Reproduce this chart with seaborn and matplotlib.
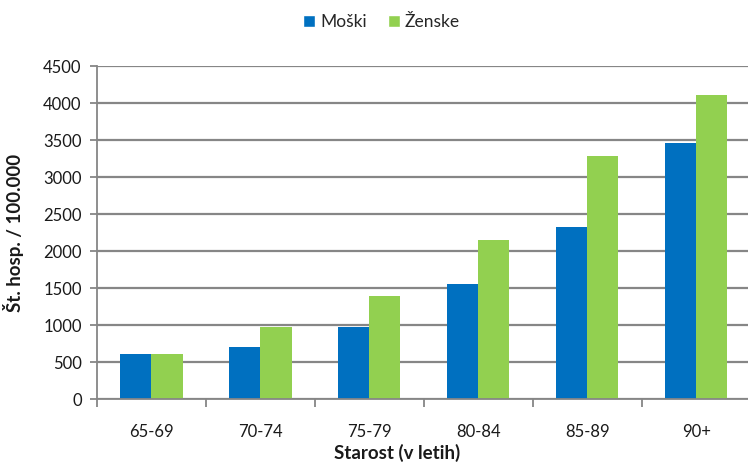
import pandas as pd
import matplotlib
matplotlib.use("Agg")
import matplotlib.pyplot as plt
import seaborn as sns
from matplotlib.patches import Patch

# data
starost = ["65-69", "70-74", "75-79", "80-84", "85-89", "90+"]
moski = [605, 700, 975, 1550, 2330, 3455]
zenske = [605, 975, 1395, 2145, 3290, 4115]

df = pd.DataFrame({
    "Starost": starost * 2,
    "Vrednost": moski + zenske,
    "Spol": ["Moški"] * len(starost) + ["Ženske"] * len(starost),
})

sns.set_theme(style="white")
plt.rcParams["font.family"] = ["Lato", "DejaVu Sans"]

barve = {"Moški": "#0070C0", "Ženske": "#92D050"}
siva = "#868686"

fig = plt.figure(figsize=(7.48, 4.63), dpi=100)
ax = fig.add_axes([0.1297, 0.1382, 0.874, 0.7192])

sns.barplot(data=df, x="Starost", y="Vrednost", hue="Spol", order=starost,
            palette=barve, width=0.57, gap=0, saturation=1, ax=ax,
            legend=False, linewidth=0)

ax.set_ylim(0, 4500)
ax.set_yticks(range(0, 4501, 500))
ax.set_xlim(-0.5, 5.5)
ax.yaxis.grid(True, color=siva, linewidth=1.6)
ax.set_axisbelow(True)

for s in ["top", "right"]:
    ax.spines[s].set_visible(False)
for s in ["left", "bottom"]:
    ax.spines[s].set_color(siva)
    ax.spines[s].set_linewidth(1.3)

ax.tick_params(axis="y", which="major", left=True, length=5, width=1.3,
               color=siva, labelsize=12, labelcolor="#1a1a1a", pad=6)
ax.tick_params(axis="x", which="major", bottom=False, labelsize=12,
               labelcolor="#1a1a1a", pad=12)
ax.set_xticks([i + 0.5 for i in range(-1, len(starost))], minor=True)
ax.tick_params(axis="x", which="minor", bottom=True, length=6, width=1.3,
               color=siva)

ax.set_xlabel("Starost (v letih)", fontsize=13.5, fontweight="bold",
              color="#1a1a1a")
ax.set_ylabel("Št. hosp. / 100.000", fontsize=13.5, fontweight="bold",
              color="#1a1a1a")
ax.xaxis.set_label_coords(0.459, -0.135)
ax.yaxis.set_label_coords(-0.112, 0.5)

handles = [Patch(facecolor=barve[k], label=k) for k in ["Moški", "Ženske"]]
fig.legend(handles=handles, loc="center", bbox_to_anchor=(0.51, 0.952),
           ncol=2, frameon=False, fontsize=12.5, handlelength=0.7,
           handleheight=0.7, handletextpad=0.3, columnspacing=1.2)

fig.savefig("out.png", dpi=100)
